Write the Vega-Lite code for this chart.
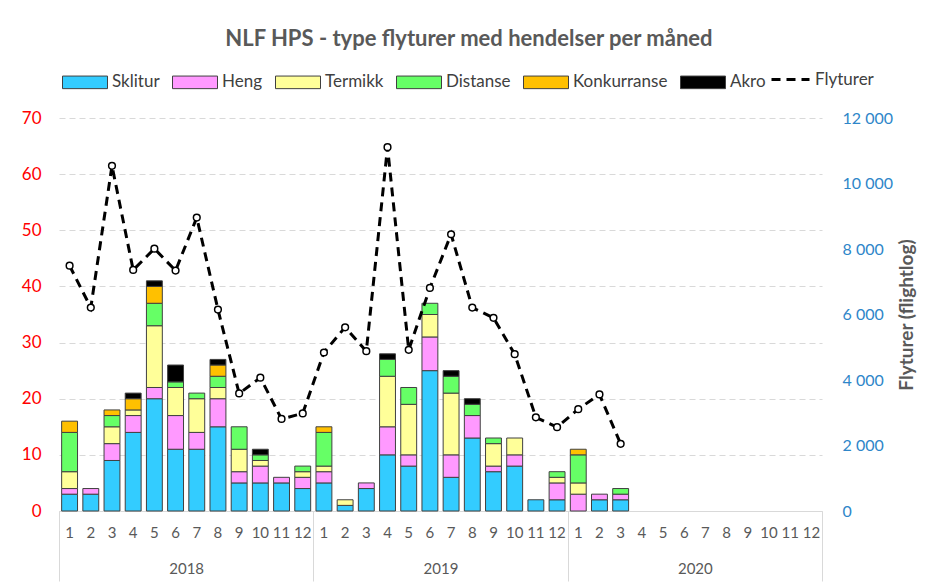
{
  "$schema": "https://vega.github.io/schema/vega-lite/v6.json",
  "width": 763,
  "height": 393,
  "autosize": {"type": "none"},
  "padding": {"left": 59, "top": 118, "right": 122, "bottom": 77},
  "background": "white",
  "title": {
    "text": "NLF HPS - type flyturer med hendelser per måned",
    "fontSize": 22,
    "fontWeight": "bold",
    "color": "#595959",
    "anchor": "middle",
    "frame": "bounds",
    "offset": 8
  },
  "datasets": {
    "bars": [
      {"month": "2018-01", "type": "Sklitur", "count": 3},
      {"month": "2018-01", "type": "Heng", "count": 1},
      {"month": "2018-01", "type": "Termikk", "count": 3},
      {"month": "2018-01", "type": "Distanse", "count": 7},
      {"month": "2018-01", "type": "Konkurranse", "count": 2},
      {"month": "2018-02", "type": "Sklitur", "count": 3},
      {"month": "2018-02", "type": "Heng", "count": 1},
      {"month": "2018-03", "type": "Sklitur", "count": 9},
      {"month": "2018-03", "type": "Heng", "count": 3},
      {"month": "2018-03", "type": "Termikk", "count": 3},
      {"month": "2018-03", "type": "Distanse", "count": 2},
      {"month": "2018-03", "type": "Konkurranse", "count": 1},
      {"month": "2018-04", "type": "Sklitur", "count": 14},
      {"month": "2018-04", "type": "Heng", "count": 3},
      {"month": "2018-04", "type": "Termikk", "count": 1},
      {"month": "2018-04", "type": "Konkurranse", "count": 2},
      {"month": "2018-04", "type": "Akro", "count": 1},
      {"month": "2018-05", "type": "Sklitur", "count": 20},
      {"month": "2018-05", "type": "Heng", "count": 2},
      {"month": "2018-05", "type": "Termikk", "count": 11},
      {"month": "2018-05", "type": "Distanse", "count": 4},
      {"month": "2018-05", "type": "Konkurranse", "count": 3},
      {"month": "2018-05", "type": "Akro", "count": 1},
      {"month": "2018-06", "type": "Sklitur", "count": 11},
      {"month": "2018-06", "type": "Heng", "count": 6},
      {"month": "2018-06", "type": "Termikk", "count": 5},
      {"month": "2018-06", "type": "Distanse", "count": 1},
      {"month": "2018-06", "type": "Akro", "count": 3},
      {"month": "2018-07", "type": "Sklitur", "count": 11},
      {"month": "2018-07", "type": "Heng", "count": 3},
      {"month": "2018-07", "type": "Termikk", "count": 6},
      {"month": "2018-07", "type": "Distanse", "count": 1},
      {"month": "2018-08", "type": "Sklitur", "count": 15},
      {"month": "2018-08", "type": "Heng", "count": 5},
      {"month": "2018-08", "type": "Termikk", "count": 2},
      {"month": "2018-08", "type": "Distanse", "count": 2},
      {"month": "2018-08", "type": "Konkurranse", "count": 2},
      {"month": "2018-08", "type": "Akro", "count": 1},
      {"month": "2018-09", "type": "Sklitur", "count": 5},
      {"month": "2018-09", "type": "Heng", "count": 2},
      {"month": "2018-09", "type": "Termikk", "count": 4},
      {"month": "2018-09", "type": "Distanse", "count": 4},
      {"month": "2018-10", "type": "Sklitur", "count": 5},
      {"month": "2018-10", "type": "Heng", "count": 3},
      {"month": "2018-10", "type": "Termikk", "count": 1},
      {"month": "2018-10", "type": "Distanse", "count": 1},
      {"month": "2018-10", "type": "Akro", "count": 1},
      {"month": "2018-11", "type": "Sklitur", "count": 5},
      {"month": "2018-11", "type": "Heng", "count": 1},
      {"month": "2018-12", "type": "Sklitur", "count": 4},
      {"month": "2018-12", "type": "Heng", "count": 2},
      {"month": "2018-12", "type": "Termikk", "count": 1},
      {"month": "2018-12", "type": "Distanse", "count": 1},
      {"month": "2019-01", "type": "Sklitur", "count": 5},
      {"month": "2019-01", "type": "Heng", "count": 2},
      {"month": "2019-01", "type": "Termikk", "count": 1},
      {"month": "2019-01", "type": "Distanse", "count": 6},
      {"month": "2019-01", "type": "Konkurranse", "count": 1},
      {"month": "2019-02", "type": "Sklitur", "count": 1},
      {"month": "2019-02", "type": "Termikk", "count": 1},
      {"month": "2019-03", "type": "Sklitur", "count": 4},
      {"month": "2019-03", "type": "Heng", "count": 1},
      {"month": "2019-04", "type": "Sklitur", "count": 10},
      {"month": "2019-04", "type": "Heng", "count": 5},
      {"month": "2019-04", "type": "Termikk", "count": 9},
      {"month": "2019-04", "type": "Distanse", "count": 3},
      {"month": "2019-04", "type": "Akro", "count": 1},
      {"month": "2019-05", "type": "Sklitur", "count": 8},
      {"month": "2019-05", "type": "Heng", "count": 2},
      {"month": "2019-05", "type": "Termikk", "count": 9},
      {"month": "2019-05", "type": "Distanse", "count": 3},
      {"month": "2019-06", "type": "Sklitur", "count": 25},
      {"month": "2019-06", "type": "Heng", "count": 6},
      {"month": "2019-06", "type": "Termikk", "count": 4},
      {"month": "2019-06", "type": "Distanse", "count": 2},
      {"month": "2019-07", "type": "Sklitur", "count": 6},
      {"month": "2019-07", "type": "Heng", "count": 4},
      {"month": "2019-07", "type": "Termikk", "count": 11},
      {"month": "2019-07", "type": "Distanse", "count": 3},
      {"month": "2019-07", "type": "Akro", "count": 1},
      {"month": "2019-08", "type": "Sklitur", "count": 13},
      {"month": "2019-08", "type": "Heng", "count": 4},
      {"month": "2019-08", "type": "Distanse", "count": 2},
      {"month": "2019-08", "type": "Akro", "count": 1},
      {"month": "2019-09", "type": "Sklitur", "count": 7},
      {"month": "2019-09", "type": "Heng", "count": 1},
      {"month": "2019-09", "type": "Termikk", "count": 4},
      {"month": "2019-09", "type": "Distanse", "count": 1},
      {"month": "2019-10", "type": "Sklitur", "count": 8},
      {"month": "2019-10", "type": "Heng", "count": 2},
      {"month": "2019-10", "type": "Termikk", "count": 3},
      {"month": "2019-11", "type": "Sklitur", "count": 2},
      {"month": "2019-12", "type": "Sklitur", "count": 2},
      {"month": "2019-12", "type": "Heng", "count": 3},
      {"month": "2019-12", "type": "Termikk", "count": 1},
      {"month": "2019-12", "type": "Distanse", "count": 1},
      {"month": "2020-01", "type": "Heng", "count": 3},
      {"month": "2020-01", "type": "Termikk", "count": 2},
      {"month": "2020-01", "type": "Distanse", "count": 5},
      {"month": "2020-01", "type": "Konkurranse", "count": 1},
      {"month": "2020-02", "type": "Sklitur", "count": 2},
      {"month": "2020-02", "type": "Heng", "count": 1},
      {"month": "2020-03", "type": "Sklitur", "count": 2},
      {"month": "2020-03", "type": "Heng", "count": 1},
      {"month": "2020-03", "type": "Distanse", "count": 1}
    ],
    "fly": [
      {"month": "2018-01", "flyturer": 7490},
      {"month": "2018-02", "flyturer": 6210},
      {"month": "2018-03", "flyturer": 10540},
      {"month": "2018-04", "flyturer": 7360},
      {"month": "2018-05", "flyturer": 8010},
      {"month": "2018-06", "flyturer": 7340},
      {"month": "2018-07", "flyturer": 8960},
      {"month": "2018-08", "flyturer": 6150},
      {"month": "2018-09", "flyturer": 3590},
      {"month": "2018-10", "flyturer": 4070},
      {"month": "2018-11", "flyturer": 2810},
      {"month": "2018-12", "flyturer": 2980},
      {"month": "2019-01", "flyturer": 4840},
      {"month": "2019-02", "flyturer": 5610},
      {"month": "2019-03", "flyturer": 4880},
      {"month": "2019-04", "flyturer": 11110},
      {"month": "2019-05", "flyturer": 4920},
      {"month": "2019-06", "flyturer": 6810},
      {"month": "2019-07", "flyturer": 8450},
      {"month": "2019-08", "flyturer": 6210},
      {"month": "2019-09", "flyturer": 5900},
      {"month": "2019-10", "flyturer": 4790},
      {"month": "2019-11", "flyturer": 2860},
      {"month": "2019-12", "flyturer": 2560},
      {"month": "2020-01", "flyturer": 3110},
      {"month": "2020-02", "flyturer": 3560},
      {"month": "2020-03", "flyturer": 2050}
    ],
    "years": [
      {"year": "2018"},
      {"year": "2019"},
      {"year": "2020"}
    ]
  },
  "layer": [
    {
      "layer": [
        {
          "data": {"name": "bars"},
          "transform": [
            {"calculate": "indexof(['Sklitur','Heng','Termikk','Distanse','Konkurranse','Akro'], datum.type)", "as": "typeOrder"}
          ],
          "mark": {"type": "bar", "stroke": "#404040", "strokeWidth": 1},
          "encoding": {
            "x": {
              "field": "month",
              "type": "ordinal",
              "scale": {
                "domain": ["2018-01","2018-02","2018-03","2018-04","2018-05","2018-06","2018-07","2018-08","2018-09","2018-10","2018-11","2018-12","2019-01","2019-02","2019-03","2019-04","2019-05","2019-06","2019-07","2019-08","2019-09","2019-10","2019-11","2019-12","2020-01","2020-02","2020-03","2020-04","2020-05","2020-06","2020-07","2020-08","2020-09","2020-10","2020-11","2020-12"],
                "paddingInner": 0.25,
                "paddingOuter": 0.125
              },
              "axis": {
                "title": null,
                "ticks": false,
                "domain": true,
                "domainColor": "#D9D9D9",
                "labelExpr": "parseInt(substring(datum.value, 5, 7))",
                "labelAngle": 0,
                "labelPadding": 14,
                "labelFontSize": 15,
                "labelColor": "#595959",
                "grid": false
              }
            },
            "y": {
              "field": "count",
              "type": "quantitative",
              "stack": "zero",
              "scale": {"domain": [0, 70]},
              "axis": {
                "orient": "left",
                "title": null,
                "values": [0, 10, 20, 30, 40, 50, 60, 70],
                "labelColor": "#FF0000",
                "labelFontSize": 17,
                "labelPadding": 18,
                "ticks": false,
                "domain": false,
                "grid": true,
                "gridColor": "#D9D9D9",
                "gridDash": [6, 4]
              }
            },
            "order": {"field": "typeOrder", "type": "quantitative", "sort": "ascending"},
            "color": {
              "field": "type",
              "type": "nominal",
              "scale": {
                "domain": ["Sklitur", "Heng", "Termikk", "Distanse", "Konkurranse", "Akro"],
                "range": ["#33CCFF", "#FF99FF", "#FFFF99", "#66FF66", "#FFC000", "#000000"]
              },
              "legend": {
                "orient": "none",
                "legendX": 3,
                "legendY": -59,
                "direction": "horizontal",
                "title": null,
                "symbolType": "M-1,-0.28H1V0.28H-1Z",
                "symbolSize": 2025,
                "symbolStrokeColor": "#404040",
                "symbolStrokeWidth": 1,
                "symbolOpacity": 1,
                "labelFontSize": 17,
                "labelColor": "#404040",
                "labelOffset": 4,
                "columnPadding": 10
              }
            }
          }
        },
        {
          "layer": [
            {
              "data": {"name": "fly"},
              "mark": {"type": "line", "stroke": "black", "strokeWidth": 3},
              "encoding": {
                "x": {"field": "month", "type": "ordinal"},
                "y": {
                  "field": "flyturer",
                  "type": "quantitative",
                  "scale": {"domain": [0, 12000]},
                  "axis": {
                    "orient": "right",
                    "values": [0, 2000, 4000, 6000, 8000, 10000, 12000],
                    "labelExpr": "replace(format(datum.value, ','), ',', ' ')",
                    "labelColor": "#2E86C9",
                    "labelFontSize": 16,
                    "labelPadding": 20,
                    "ticks": false,
                    "domain": false,
                    "grid": false,
                    "title": "Flyturer (flightlog)",
                    "titleAngle": 270,
                    "titleFontSize": 19,
                    "titleFontWeight": "bold",
                    "titleColor": "#595959",
                    "titlePadding": 24
                  }
                },
                "strokeDash": {
                  "datum": "Flyturer",
                  "type": "nominal",
                  "scale": {"range": [[9, 6]]},
                  "legend": {
                    "orient": "none",
                    "legendX": 711,
                    "legendY": -59,
                    "direction": "horizontal",
                    "title": null,
                    "symbolType": "stroke",
                    "symbolSize": 1444,
                    "symbolStrokeWidth": 3,
                    "symbolStrokeColor": "black",
                    "labelFontSize": 17,
                    "labelColor": "#404040",
                    "labelOffset": 4
                  }
                }
              }
            },
            {
              "data": {"name": "fly"},
              "mark": {"type": "point", "filled": false, "fill": "white", "fillOpacity": 1, "stroke": "black", "strokeWidth": 1.5, "size": 45, "opacity": 1},
              "encoding": {
                "x": {"field": "month", "type": "ordinal"},
                "y": {"field": "flyturer", "type": "quantitative"}
              }
            }
          ]
        }
      ],
      "resolve": {"scale": {"y": "independent"}}
    },
    {
      "data": {"name": "years"},
      "mark": {"type": "rule", "opacity": 0},
      "encoding": {
        "x": {
          "field": "year",
          "type": "ordinal",
          "scale": {"paddingInner": 0, "paddingOuter": 0},
          "axis": {
            "title": null,
            "orient": "bottom",
            "tickBand": "extent",
            "ticks": true,
            "tickSize": 70,
            "tickColor": "#D9D9D9",
            "domain": false,
            "labelPadding": -20,
            "labelFontSize": 15,
            "labelColor": "#595959",
            "labelAngle": 0,
            "grid": false
          }
        }
      }
    }
  ],
  "resolve": {"scale": {"x": "independent"}},
  "config": {
    "font": "Lato",
    "view": {"stroke": null}
  }
}
